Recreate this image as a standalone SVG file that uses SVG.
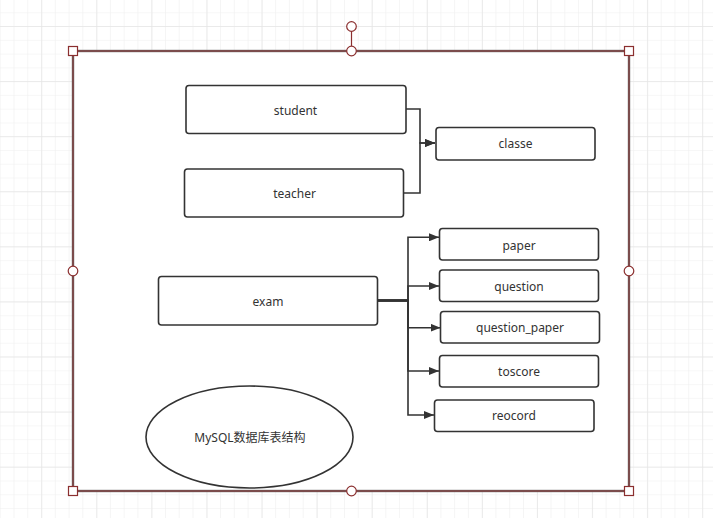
<svg xmlns="http://www.w3.org/2000/svg" width="713" height="518" viewBox="0 0 713 518">
<defs>
<pattern id="minor" patternUnits="userSpaceOnUse" x="13.5" y="12.3" width="13.77" height="13.77">
<path d="M0 0V13.77M0 0H13.77" fill="none" stroke="#efefef" stroke-width="1.2"/>
</pattern>
<pattern id="major" patternUnits="userSpaceOnUse" x="41.3" y="26" width="55.08" height="55.08">
<path d="M0 0V55.08M0 0H55.08" fill="none" stroke="#e6e6e6" stroke-width="1.4"/>
</pattern>
<marker id="arr" viewBox="0 0 10 8" refX="10" refY="4" markerWidth="10" markerHeight="8" markerUnits="userSpaceOnUse" orient="auto">
<path d="M0 0L10 4L0 8Z" fill="#333"/>
</marker>
<style>
.n{fill:#fff;stroke:#333;stroke-width:1.6}
.t{font-family:"Noto Sans","Noto Sans CJK SC",sans-serif;font-size:12px;fill:#333;text-anchor:middle;dominant-baseline:central}
.c{fill:none;stroke:#333;stroke-width:1.6}
.h{fill:#fff;stroke:#8b2f2f;stroke-width:1.2}
</style>
</defs>
<rect width="713" height="518" fill="#fff"/>
<rect width="713" height="518" fill="url(#minor)"/>
<rect width="713" height="518" fill="url(#major)"/>
<g id="frame">
<rect x="73" y="51" width="556" height="440" fill="#fff" stroke="#6b6b6b" stroke-width="2.4"/>
<rect x="73" y="51" width="556" height="440" fill="none" stroke="#8b2f2f" stroke-width="1"/>
</g>
<g id="connectors">
<path class="c" d="M406 109H420V143H435" marker-end="url(#arr)"/>
<path class="c" d="M403 193H420V143H435" marker-end="url(#arr)"/>
<path class="c" d="M378 300.5H408V237.3H439" marker-end="url(#arr)"/>
<path class="c" d="M378 300.5H408V286H439" marker-end="url(#arr)"/>
<path class="c" d="M378 300.5H408V327.7H440.5" marker-end="url(#arr)"/>
<path class="c" d="M378 300.5H408V371H439" marker-end="url(#arr)"/>
<path class="c" d="M378 300.5H408V415H434" marker-end="url(#arr)"/>
<path d="M378 300.5H408" stroke="#333" stroke-width="2.6" fill="none"/>
</g>
<g id="student"><rect class="n" x="186" y="85.5" width="220" height="48" rx="3"/><text class="t" x="295.5" y="110">student</text></g>
<g id="teacher"><rect class="n" x="184.5" y="169" width="219" height="48" rx="3"/><text class="t" x="294.5" y="193">teacher</text></g>
<g id="classe"><rect class="n" x="436" y="127.5" width="159" height="32.5" rx="3"/><text class="t" x="515.5" y="143">classe</text></g>
<g id="exam"><rect class="n" x="158.5" y="276.5" width="219" height="48.5" rx="3"/><text class="t" x="268" y="301">exam</text></g>
<g id="paper"><rect class="n" x="439.5" y="228.5" width="159" height="31.5" rx="3"/><text class="t" x="519" y="245">paper</text></g>
<g id="question"><rect class="n" x="439.5" y="270" width="159" height="31.5" rx="3"/><text class="t" x="519" y="286">question</text></g>
<g id="question_paper"><rect class="n" x="440.5" y="311.5" width="159" height="31.5" rx="3"/><text class="t" x="520" y="327">question_paper</text></g>
<g id="toscore"><rect class="n" x="439.5" y="355.5" width="159" height="31.5" rx="3"/><text class="t" x="519" y="371">toscore</text></g>
<g id="reocord"><rect class="n" x="434.5" y="400" width="159.5" height="31.5" rx="3"/><text class="t" x="514" y="415">reocord</text></g>
<g id="title"><ellipse class="n" cx="249.5" cy="437" rx="103.5" ry="51"/><text class="t" x="250" y="437">MySQL数据库表结构</text></g>
<g id="handles">
<line x1="351.5" y1="31" x2="351.5" y2="46" stroke="#8b2f2f" stroke-width="1.2"/>
<circle class="h" cx="351.5" cy="26.5" r="4.8"/>
<circle class="h" cx="351.5" cy="51" r="4.8"/>
<circle class="h" cx="351.5" cy="491" r="4.8"/>
<circle class="h" cx="73" cy="271" r="4.8"/>
<circle class="h" cx="629" cy="271" r="4.8"/>
<rect class="h" x="68.5" y="46.5" width="9" height="9"/>
<rect class="h" x="624.5" y="46.5" width="9" height="9"/>
<rect class="h" x="68.5" y="486.5" width="9" height="9"/>
<rect class="h" x="624.5" y="486.5" width="9" height="9"/>
</g>
</svg>
